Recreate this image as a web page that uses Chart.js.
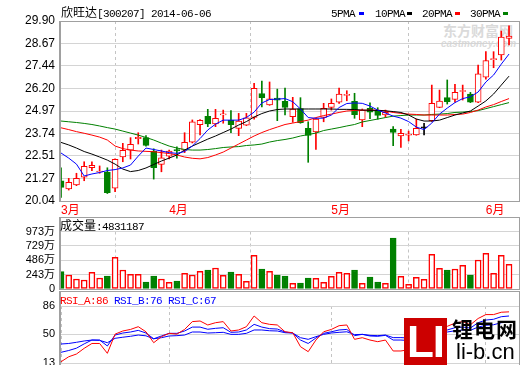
<!DOCTYPE html>
<html>
<head>
<meta charset="utf-8">
<script src="https://cdn.jsdelivr.net/npm/chart.js@4.4.1/dist/chart.umd.min.js"></script>
<style>
  body { margin: 0; background: #fff; }
  #wrap { position: relative; width: 520px; height: 365px; overflow: hidden; background: #fff; }
  canvas { position: absolute; left: 0; }
  .box { position: absolute; left: 59px; width: 461px; border: 1px solid #a0a0a0; border-left-width: 2px; box-sizing: border-box; pointer-events: none; }
  .txt { position: absolute; white-space: nowrap; font: 11px/12px 'Liberation Mono', monospace; letter-spacing: -0.6px; color: #000; }
  .cjk { font: 12px/12px 'Noto Sans CJK SC'; letter-spacing: 0; }
  .mark { position: absolute; top: 12px; width: 5px; height: 3px; }
</style>
</head>
<body>
<div id="wrap">
  <div style="position:absolute;left:443px;top:22px;font:bold 14px/16px 'Noto Sans CJK SC';color:#dadada">东方财富网</div>
  <div style="position:absolute;left:441px;top:39px;font:italic bold 10px/10px 'Liberation Sans';color:#dadada">eastmoney.com</div>

  <canvas id="priceChart" width="520" height="216" style="top:0"></canvas>
  <canvas id="volChart" width="520" height="84" style="top:216px"></canvas>
  <canvas id="rsiChart" width="520" height="85" style="top:290px"></canvas>

  <div class="box" style="top:21px;height:181px"></div>
  <div class="box" style="top:217px;height:73px"></div>
  <div class="box" style="top:291px;height:90px"></div>

  <div class="txt" style="left:61px;top:6px"><span class="cjk">欣旺达</span>[300207] 2014-06-06</div>
  <div class="txt" style="left:331px;top:8px">5PMA</div><div class="mark" style="left:359px;background:#0000ff"></div>
  <div class="txt" style="left:375px;top:8px">10PMA</div><div class="mark" style="left:407px;background:#000"></div>
  <div class="txt" style="left:422px;top:8px">20PMA</div><div class="mark" style="left:455px;background:#ff0000"></div>
  <div class="txt" style="left:470px;top:8px">30PMA</div><div class="mark" style="left:503px;background:#008000"></div>

  <div class="txt" style="left:60px;top:219px"><span class="cjk">成交量</span>:4831187</div>
  <div class="txt" style="left:60px;top:295px"><span style="color:#ff0000">RSI_A:86</span> <span style="color:#0000ff">RSI_B:76</span> <span style="color:#0000ff">RSI_C:67</span></div>

  <div style="position:absolute;left:404px;top:318px;width:43px;height:47px;background:#cc0000;color:#fff;font:bold 44px/47px 'Liberation Sans';text-align:center;letter-spacing:-1px">LI</div>
  <div style="position:absolute;left:452px;top:316px;font:bold 21px/24px 'Noto Sans CJK SC';color:#000;letter-spacing:1px">锂电网</div>
  <div style="position:absolute;left:456px;top:341px;font:22px/22px 'Liberation Sans';color:#000">li-b.cn</div>
</div>

<script>
const monthIdx = [0, 14, 35, 55];
const monthLabels = ['3月', '4月', '5月', '6月'];
const priceTicks = [20.04, 21.27, 22.51, 23.74, 24.97, 26.20, 27.44, 28.67, 29.90];
const volTicks = [0, 243, 486, 729, 973];
const rsiTicks = [13, 50, 86];

const opens = [21.15, 20.70, 20.92, 21.34, 21.86, 21.63, 21.63, 20.74, 22.45, 22.83,
  23.45, 23.51, 22.76, 22.05, 22.50, 22.85, 22.83, 23.26, 24.22, 24.68,
  24.26, 24.76, 24.46, 24.02, 24.19, 24.62, 25.92, 25.30, 25.68, 25.50,
  24.66, 25.10, 24.02, 23.82, 24.62, 25.17, 25.45, 25.83, 25.50, 24.48,
  25.12, 24.99, 24.75, 23.98, 23.60, 23.64, 23.66, 24.05, 24.44, 25.17,
  25.70, 25.61, 26.04, 25.90, 25.45, 26.82, 27.78, 28.04, 28.95];
const closes = [20.79, 21.06, 21.28, 21.94, 21.99, 21.68, 20.49, 22.32, 22.82, 23.15,
  23.53, 23.09, 21.86, 22.40, 22.78, 22.78, 23.26, 24.37, 24.46, 24.26,
  24.57, 24.78, 24.22, 24.42, 24.60, 26.21, 25.70, 25.64, 25.57, 25.17,
  25.08, 24.33, 23.63, 24.53, 25.12, 25.39, 25.90, 25.86, 24.77, 25.02,
  24.90, 24.73, 24.90, 23.80, 23.75, 23.67, 24.02, 24.05, 25.39, 25.52,
  25.48, 25.99, 26.07, 25.45, 27.00, 27.73, 27.82, 29.02, 29.08];
const highs = [21.86, 21.28, 21.56, 22.19, 22.19, 21.96, 21.86, 22.35, 23.20, 23.51,
  23.78, 23.62, 22.90, 22.83, 22.83, 23.01, 23.78, 24.48, 24.50, 25.06,
  25.06, 25.02, 24.99, 24.84, 24.84, 26.49, 26.61, 26.56, 26.17, 26.23,
  25.72, 25.70, 24.38, 24.55, 25.39, 25.63, 26.23, 26.08, 25.94, 25.08,
  25.42, 25.15, 25.02, 24.11, 23.97, 23.87, 24.53, 24.30, 26.39, 26.12,
  26.67, 26.43, 26.39, 25.99, 27.49, 28.22, 28.22, 29.35, 29.64];
const lows = [20.24, 20.64, 20.88, 21.15, 21.70, 21.56, 20.45, 20.55, 22.19, 22.34,
  23.16, 23.05, 21.24, 21.64, 22.34, 22.38, 22.69, 23.22, 23.66, 24.11,
  24.11, 24.30, 23.78, 23.62, 24.17, 24.52, 25.19, 25.28, 24.44, 24.75,
  24.35, 24.30, 22.16, 22.87, 24.38, 25.02, 25.39, 25.53, 24.57, 24.11,
  24.55, 24.52, 24.62, 23.07, 22.98, 23.33, 23.64, 23.66, 24.40, 25.15,
  25.35, 25.45, 25.57, 25.43, 25.43, 26.72, 27.34, 27.76, 28.59];

// 万
const volumes = [293, 237, 169, 152, 282, 186, 220, 536, 321, 249,
  249, 118, 220, 169, 113, 135, 266, 237, 299, 321,
  355, 232, 288, 249, 130, 570, 338, 299, 237, 220,
  96, 101, 186, 181, 113, 215, 282, 266, 321, 96,
  203, 118, 96, 863, 215, 80, 198, 164, 587, 350,
  321, 338, 401, 237, 491, 604, 266, 570, 418];

const ma5 = [22.67, 22.39, 22.06, 21.41, 21.52, 21.60, 21.71, 21.76, 21.85, 22.01,
  22.50, 22.94, 22.86, 22.78, 22.69, 22.65, 22.75, 23.05, 23.46, 23.93,
  24.25, 24.47, 24.47, 24.47, 24.61, 24.91, 25.41, 25.60, 25.62, 25.65,
  25.48, 25.08, 24.61, 24.57, 24.58, 24.75, 25.16, 25.38, 25.41, 25.39,
  25.24, 25.02, 24.86, 24.69, 24.58, 24.39, 24.09, 23.95, 24.31, 24.80,
  25.13, 25.43, 25.65, 25.75, 26.01, 26.56, 26.94, 27.54, 28.09];
const ma10 = [23.25, 23.11, 22.94, 22.75, 22.61, 22.45, 22.28, 22.06, 21.79, 21.65,
  21.71, 21.85, 22.04, 22.23, 22.39, 22.56, 22.83, 23.05, 23.24, 23.43,
  23.60, 23.79, 23.98, 24.20, 24.39, 24.64, 24.83, 24.97, 25.05, 25.08,
  25.08, 25.08, 25.08, 25.08, 25.08, 25.08, 25.06, 25.06, 25.05, 25.02,
  25.01, 25.00, 24.98, 24.94, 24.89, 24.75, 24.53, 24.42, 24.42, 24.47,
  24.61, 24.75, 24.86, 24.97, 25.24, 25.52, 25.90, 26.39, 26.88];
const ma20 = [24.05, 23.95, 23.84, 23.75, 23.65, 23.54, 23.38, 23.05, 22.91, 22.83,
  22.78, 22.76, 22.74, 22.69, 22.64, 22.56, 22.45, 22.38, 22.35, 22.42,
  22.56, 22.72, 22.94, 23.16, 23.38, 23.60, 23.79, 23.95, 24.09, 24.23,
  24.31, 24.39, 24.47, 24.61, 24.72, 24.80, 24.89, 24.97, 25.00, 25.01,
  25.02, 25.02, 24.97, 24.89, 24.84, 24.80, 24.78, 24.75, 24.75, 24.75,
  24.75, 24.78, 24.80, 24.89, 25.02, 25.19, 25.32, 25.49, 25.65];
const ma30 = [24.42, 24.38, 24.34, 24.29, 24.23, 24.15, 24.06, 23.98, 23.87, 23.76,
  23.65, 23.52, 23.38, 23.21, 23.05, 22.94, 22.86, 22.83, 22.83, 22.86,
  22.91, 22.97, 23.00, 23.02, 23.08, 23.11, 23.16, 23.27, 23.35, 23.41,
  23.49, 23.60, 23.68, 23.76, 23.90, 23.98, 24.06, 24.15, 24.23, 24.37,
  24.45, 24.53, 24.61, 24.69, 24.72, 24.75, 24.75, 24.75, 24.78, 24.80,
  24.83, 24.89, 24.91, 24.94, 24.99, 25.10, 25.21, 25.32, 25.43];

const rsiA = [14.6, 21, 24.5, 31.8, 38, 38, 25.4, 50, 54, 56,
  59.5, 53, 39, 46.7, 51, 50, 56, 66, 66.8, 61.7,
  64.6, 66, 54, 55.3, 59.5, 73.2, 64.6, 62.5, 61.7, 53,
  51.8, 33.9, 27.5, 42.4, 53, 56, 60.8, 61.7, 43.3, 45.4,
  42.4, 40.3, 42.4, 28.4, 28.4, 30, 42, 41, 58, 63,
  60, 64, 66, 62, 70, 75, 75, 78, 78.5];
const rsiB = [26.7, 29, 32, 37.5, 42.4, 42.4, 34.8, 48.8, 51.4, 52.7,
  54.8, 51.4, 44, 47.6, 51, 51, 54, 59, 59, 56.2,
  57.4, 58.2, 52.3, 52.7, 55.3, 62.5, 59, 57, 56.5, 52.7,
  51.4, 42.4, 38, 45, 51, 53, 55.3, 56, 48, 49.7,
  47.6, 47.2, 48.4, 42.4, 42.4, 41.8, 46.3, 46.3, 54, 56.5,
  55.3, 58.2, 59, 57.8, 64.6, 68, 69, 72.3, 73.2];
const rsiC = [37.3, 38, 39.5, 41.2, 42.4, 42, 39, 44.6, 46, 47.2,
  48.8, 47.8, 44, 45.4, 47.6, 48, 48.8, 52.7, 52.7, 51.4,
  51.8, 52.3, 49.7, 49.7, 51, 55.3, 55.3, 54.3, 54, 51.8,
  51.4, 45.4, 43.3, 46.7, 49.7, 51.4, 52.3, 53, 49.3, 49.7,
  48.4, 48, 48.8, 45.5, 45.5, 45, 47.6, 47.6, 51.4, 53,
  52.7, 54.3, 55.3, 54.9, 59, 61.3, 62, 64.6, 65.5];

const RED = '#ff0000', GREEN = '#008000', BLUE = '#0000ff';

Chart.defaults.font.family = "'Liberation Sans', 'Noto Sans CJK SC', sans-serif";
Chart.defaults.font.size = 12;
Chart.defaults.color = '#000';

function candleColor(i) {
  if (closes[i] > opens[i]) return RED;
  if (closes[i] < opens[i]) return GREEN;
  return '#000';
}

function xAxis(showLabels, height) {
  return {
    type: 'linear',
    min: -0.26,
    max: 59.29,
    offset: false,
    afterBuildTicks: s => { s.ticks = monthIdx.map(v => ({ value: v })); },
    afterFit: s => { s.height = height; },
    ticks: {
      display: showLabels, autoSkip: false, maxRotation: 0, minRotation: 0,
      align: 'start', padding: 2, color: RED, font: { size: 12 },
      callback: (v, i) => monthLabels[i]
    },
    grid: { color: '#c4c4c4', drawTicks: false },
    border: { display: false, dash: [3, 3] }
  };
}

function yAxis(min, max, ticks, fmt, size) {
  return {
    min, max,
    afterBuildTicks: s => { s.ticks = ticks.map(v => ({ value: v })); },
    afterFit: s => { s.width = 59; },
    ticks: { callback: fmt, color: '#000', padding: 4, autoSkip: false, font: { size } },
    grid: { color: '#d4d4d4', drawTicks: false },
    border: { display: false }
  };
}

const baseOptions = {
  responsive: false,
  animation: false,
  events: [],
  plugins: { legend: { display: false }, tooltip: { enabled: false } }
};

function line(data, color, order) {
  return {
    type: 'line', data: data.map((v, i) => ({ x: i, y: v })),
    borderColor: color, borderWidth: 1, pointRadius: 0, tension: 0, fill: false, order
  };
}

function drawPriceChart() {
  const bodies = {
    type: 'bar',
    data: opens.map((o, i) => ({ x: i, y: [o, closes[i]] })),
    backgroundColor: opens.map((o, i) => closes[i] > o ? '#fff' : candleColor(i)),
    borderColor: opens.map((o, i) => candleColor(i)),
    borderWidth: 1, borderSkipped: false, barThickness: 6, minBarLength: 1,
    grouped: false, order: 1
  };
  const wicks = {
    type: 'bar',
    data: lows.map((l, i) => ({ x: i, y: [l, highs[i]] })),
    backgroundColor: lows.map((l, i) => candleColor(i)),
    borderWidth: 0, barThickness: 1, grouped: false, order: 2
  };
  new Chart(document.getElementById('priceChart'), {
    type: 'bar',
    data: {
      datasets: [
        line(ma5, BLUE, 0), line(ma10, '#000', 0), line(ma20, RED, 0), line(ma30, GREEN, 0),
        bodies, wicks
      ]
    },
    options: {
      ...baseOptions,
      layout: { padding: { top: 21, right: 1, left: 0, bottom: 0 } },
      scales: {
        x: xAxis(true, 15),
        y: yAxis(20.04, 29.90, priceTicks, v => v.toFixed(2), 12)
      }
    }
  });
}

function drawVolumeChart() {
  new Chart(document.getElementById('volChart'), {
    type: 'bar',
    data: {
      datasets: [{
        data: volumes.map((v, i) => ({ x: i, y: v })),
        backgroundColor: volumes.map((v, i) => closes[i] >= opens[i] ? '#fff' : GREEN),
        borderColor: volumes.map((v, i) => closes[i] >= opens[i] ? RED : GREEN),
        borderWidth: 1.5, borderSkipped: false, barThickness: 6, grouped: false
      }]
    },
    options: {
      ...baseOptions,
      layout: { padding: { top: 15.5, right: 1, left: 0, bottom: 0 } },
      scales: {
        x: xAxis(false, 11),
        y: yAxis(0, 973, volTicks, v => v === 0 ? '0' : v + '万', 11)
      }
    }
  });
}

function drawRsiChart() {
  new Chart(document.getElementById('rsiChart'), {
    type: 'line',
    data: {
      datasets: [line(rsiC, BLUE, 2), line(rsiB, BLUE, 1), line(rsiA, RED, 0)]
    },
    options: {
      ...baseOptions,
      layout: { padding: { top: 16, right: 1, left: 0, bottom: 0 } },
      scales: {
        x: xAxis(false, 12),
        y: yAxis(13, 86, rsiTicks, v => String(v), 11)
      }
    }
  });
}

drawPriceChart();
drawVolumeChart();
drawRsiChart();
</script>
</body>
</html>
